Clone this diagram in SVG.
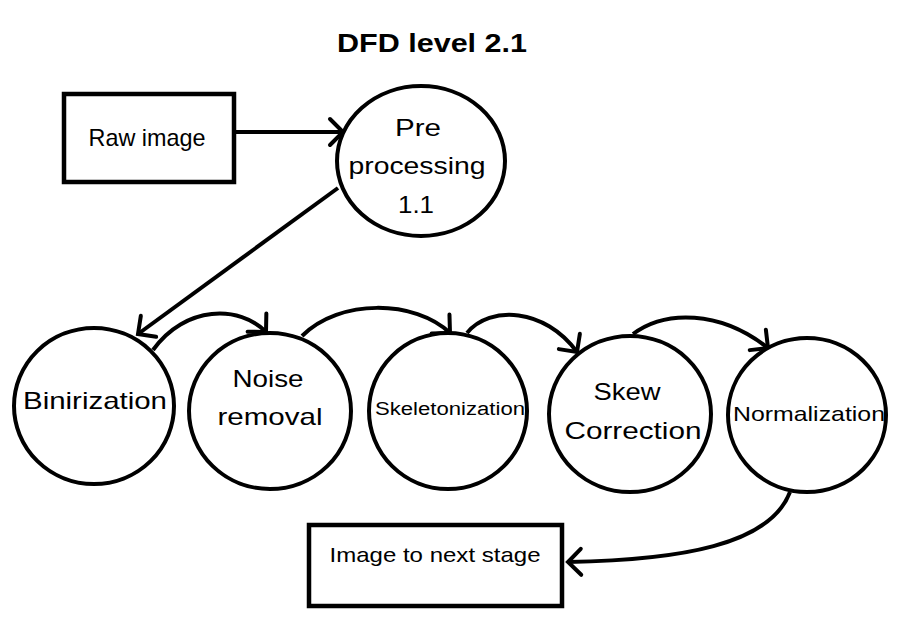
<svg xmlns="http://www.w3.org/2000/svg" width="897" height="618" viewBox="0 0 897 618">
<defs>
<style>
.box{fill:#fff;stroke:#000;stroke-width:4.5}
.proc{fill:#fff;stroke:#000;stroke-width:4}
.flow{fill:none;stroke:#000;stroke-width:4}
text{font-family:"Liberation Sans",Arial,sans-serif;fill:#000;text-anchor:middle}
.t{font-size:24px}
.title{font-size:25px;font-weight:bold}
</style>
<marker id="ah" markerUnits="userSpaceOnUse" viewBox="-20 -20 24 40" refX="0" refY="0" markerWidth="24" markerHeight="40" orient="auto">
<path d="M-13,-13 L0,0 L-13,13" fill="none" stroke="#000" stroke-width="4" stroke-linecap="round" stroke-linejoin="miter"/>
</marker>
</defs>
<rect width="897" height="618" fill="#fff"/>
<text class="title" x="432" y="52" textLength="190" lengthAdjust="spacingAndGlyphs">DFD level 2.1</text>
<g id="connectors">
<path class="flow" d="M235,132 L343,132" marker-end="url(#ah)"/>
<path class="flow" d="M338,188 L138,334" marker-end="url(#ah)"/>
<path class="flow" d="M153,350 C185,305 240,305 266,332" marker-end="url(#ah)"/>
<path class="flow" d="M302,336 C340,298 415,300 450,333" marker-end="url(#ah)"/>
<path class="flow" d="M467,333 C490,305 545,308 577,352" marker-end="url(#ah)"/>
<path class="flow" d="M633,334 C665,310 720,310 768,348" marker-end="url(#ah)"/>
<path class="flow" d="M790,492 C770,545 680,560 568,562" marker-end="url(#ah)"/>
</g>
<g id="raw-image">
<rect class="box" x="64" y="94" width="170" height="88"/>
<text class="t" x="147" y="146" textLength="117" lengthAdjust="spacingAndGlyphs">Raw image</text>
</g>
<g id="pre-processing">
<ellipse class="proc" cx="421" cy="161" rx="84" ry="75"/>
<text class="t" x="418" y="136" textLength="46" lengthAdjust="spacingAndGlyphs">Pre</text>
<text class="t" x="417" y="174" textLength="137" lengthAdjust="spacingAndGlyphs">processing</text>
<text class="t" x="416" y="213" textLength="36" lengthAdjust="spacingAndGlyphs">1.1</text>
</g>
<g id="binirization">
<ellipse class="proc" cx="94" cy="406" rx="80" ry="78"/>
<text class="t" x="95" y="409" textLength="144" lengthAdjust="spacingAndGlyphs">Binirization</text>
</g>
<g id="noise-removal">
<ellipse class="proc" cx="270" cy="411" rx="81" ry="78"/>
<text class="t" x="268" y="387" textLength="71" lengthAdjust="spacingAndGlyphs">Noise</text>
<text class="t" x="270" y="425" textLength="105" lengthAdjust="spacingAndGlyphs">removal</text>
</g>
<g id="skeletonization">
<ellipse class="proc" cx="448" cy="411" rx="79" ry="78"/>
<text x="450" y="415" style="font-size:18px" textLength="150" lengthAdjust="spacingAndGlyphs">Skeletonization</text>
</g>
<g id="skew-correction">
<ellipse class="proc" cx="630" cy="414" rx="81" ry="78"/>
<text class="t" x="627" y="400" textLength="67" lengthAdjust="spacingAndGlyphs">Skew</text>
<text class="t" x="633" y="439" textLength="137" lengthAdjust="spacingAndGlyphs">Correction</text>
</g>
<g id="normalization">
<ellipse class="proc" cx="807" cy="415" rx="79" ry="77"/>
<text x="809" y="421" style="font-size:21px" textLength="152" lengthAdjust="spacingAndGlyphs">Normalization</text>
</g>
<g id="image-next-stage">
<rect class="box" x="309" y="525" width="253" height="81"/>
<text x="435" y="562" style="font-size:21px" textLength="211" lengthAdjust="spacingAndGlyphs">Image to next stage</text>
</g>
</svg>
